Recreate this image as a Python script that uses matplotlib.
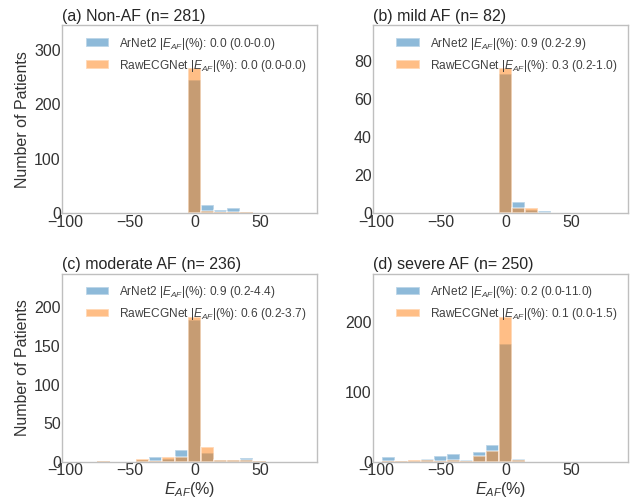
import matplotlib
matplotlib.use("Agg")
import matplotlib.pyplot as plt
import numpy as np

plt.rcParams["font.family"] = ["Liberation Sans", "DejaVu Sans"]
plt.rcParams["mathtext.fontset"] = "custom"
plt.rcParams["mathtext.rm"] = "Liberation Sans"
plt.rcParams["mathtext.it"] = "Liberation Sans:italic"

# bin centres (%), bins 10 wide
centers = [-90, -80, -70, -60, -50, -40, -30, -20, -10, 0, 10, 20, 30, 40, 50, 60, 70, 80]

titles = ["(a) Non-AF (n= 281)", "(b) mild AF (n= 82)",
          "(c) moderate AF (n= 236)", "(d) severe AF (n= 250)"]

arnet_counts = [
    [0, 0, 0, 0, 0, 0, 0, 0, 0, 245, 15, 6, 10, 3, 0, 1, 0, 1],
    [0, 0, 0, 0, 0, 0, 0, 0, 0, 73, 6, 2, 1, 0, 0, 0, 0, 0],
    [0, 0, 1, 0, 0, 3, 7, 4, 15, 183, 12, 3, 2, 5, 1, 0, 0, 0],
    [7, 1, 2, 5, 9, 12, 3, 14, 24, 168, 5, 0, 0, 0, 0, 0, 0, 0],
]
raw_counts = [
    [0, 0, 0, 0, 0, 0, 0, 0, 0, 266, 4, 3, 3, 3, 0, 1, 1, 0],
    [0, 0, 0, 0, 0, 0, 0, 0, 0, 76, 3, 3, 0, 0, 0, 0, 0, 0],
    [0, 0, 1, 0, 0, 4, 1, 6, 7, 187, 20, 3, 3, 3, 1, 0, 0, 0],
    [1, 1, 3, 3, 2, 3, 2, 9, 16, 207, 3, 0, 0, 0, 0, 0, 0, 0],
]

arnet_stats = ["0.0 (0.0-0.0)", "0.9 (0.2-2.9)", "0.9 (0.2-4.4)", "0.2 (0.0-11.0)"]
raw_stats = ["0.0 (0.0-0.0)", "0.3 (0.2-1.0)", "0.6 (0.2-3.7)", "0.1 (0.0-1.5)"]

edges = np.arange(-95, 95, 10)

fig, axes = plt.subplots(2, 2, figsize=(6.35, 5), dpi=100)
fig.subplots_adjust(left=0.098, right=0.989, top=0.95, bottom=0.076,
                    wspace=0.22, hspace=0.32)

for i, ax in enumerate(axes.flat):
    ax.hist(centers, bins=edges, weights=arnet_counts[i], color="tab:blue",
            alpha=0.5, edgecolor="white", linewidth=1.2,
            label="ArNet2 $|E_{AF}|$(%): " + arnet_stats[i])
    ax.hist(centers, bins=edges, weights=raw_counts[i], color="tab:orange",
            alpha=0.5, edgecolor="white", linewidth=1.2,
            label="RawECGNet $|E_{AF}|$(%): " + raw_stats[i])
    top = max(max(arnet_counts[i]), max(raw_counts[i]))
    ax.set_ylim(0, top * 1.3)
    ax.set_xlim(-102, 94)
    ax.set_xticks([-100, -50, 0, 50])
    ax.tick_params(length=0, labelsize=11.5, labelcolor="0.2", pad=1)
    for s in ax.spines.values():
        s.set_color("0.75")
        s.set_linewidth(1)
    ax.set_title(titles[i], loc="left", fontsize=11.5, color="0.15", pad=3)
    leg = ax.legend(loc="upper right", frameon=False, fontsize=8.6)
    for t in leg.get_texts():
        t.set_color("0.25")
    if i % 2 == 0:
        ax.set_ylabel("Number of Patients", fontsize=11.5, color="0.2", labelpad=3)
    if i >= 2:
        ax.set_xlabel("$E_{AF}$(%)", fontsize=11.5, color="0.2", labelpad=1)

plt.savefig("out.png")
